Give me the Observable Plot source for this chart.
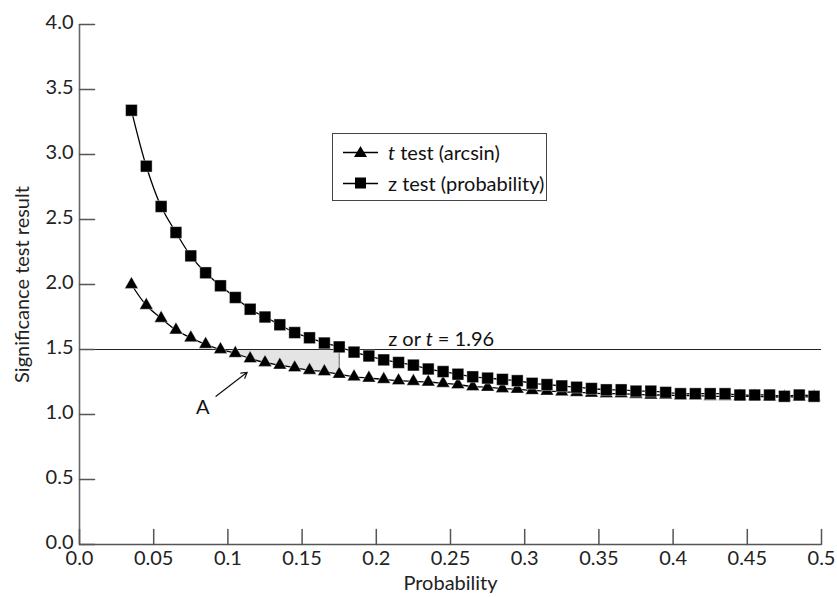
<!DOCTYPE html>
<html>
<head>
<meta charset="utf-8">
<script src="https://cdn.jsdelivr.net/npm/d3@7"></script>
<script src="https://cdn.jsdelivr.net/npm/@observablehq/plot@0.6"></script>
<style>
  html, body { margin: 0; padding: 0; background: #fff; }
  #wrap { position: relative; width: 837px; height: 597px; font-family: "Lato", "DejaVu Sans", sans-serif; }
  #legend { position: absolute; left: 332px; top: 133px; width: 215px; height: 68px; border: 1px solid #444; background: #fff; box-sizing: border-box; font-size: 20px; color: #111; }
  #legend .row { position: absolute; left: 10px; display: flex; align-items: center; height: 24px; white-space: nowrap; }
  #legend svg { margin-right: 9px; }
</style>
</head>
<body>
<div id="wrap"></div>
<script>
// Data
const probability = [0.035,0.045,0.055,0.065,0.075,0.085,0.095,0.105,0.115,0.125,0.135,0.145,0.155,0.165,0.175,0.185,0.195,0.205,0.215,0.225,0.235,0.245,0.255,0.265,0.275,0.285,0.295,0.305,0.315,0.325,0.335,0.345,0.355,0.365,0.375,0.385,0.395,0.405,0.415,0.425,0.435,0.445,0.455,0.465,0.475,0.485,0.495];
const zTest = [3.34,2.91,2.60,2.40,2.22,2.09,1.99,1.90,1.81,1.75,1.69,1.63,1.59,1.55,1.52,1.48,1.45,1.42,1.40,1.38,1.35,1.33,1.31,1.29,1.28,1.27,1.26,1.24,1.23,1.22,1.21,1.20,1.19,1.19,1.18,1.18,1.17,1.16,1.16,1.16,1.16,1.15,1.15,1.15,1.14,1.15,1.14];
const tTest = [2.00,1.84,1.74,1.65,1.59,1.54,1.50,1.47,1.43,1.40,1.38,1.36,1.34,1.33,1.31,1.29,1.28,1.27,1.26,1.255,1.25,1.24,1.23,1.215,1.21,1.20,1.195,1.185,1.18,1.175,1.17,1.165,1.16,1.16,1.155,1.15,1.15,1.145,1.145,1.14,1.14,1.14,1.14,1.135,1.135,1.135,1.135];
const criticalValue = 1.5;
const shadeFrom = 0.095, shadeTo = 0.175;
const xTicks = [0,0.05,0.1,0.15,0.2,0.25,0.3,0.35,0.4,0.45,0.5];
const xTickLabels = ["0.0","0.05","0.1","0.15","0.2","0.25","0.3","0.35","0.4","0.45","0.5"];
const yTicks = [0,0.5,1,1.5,2,2.5,3,3.5,4];
const yTickLabels = ["0.0","0.5","1.0","1.5","2.0","2.5","3.0","3.5","4.0"];
const lineLabel = {p: 0.208, v: 1.58, text: "z or t = 1.96"};
const annotA = {p: 0.083, v: 1.05, text: "A"};
const arrowA = [{x1: 0.092, y1: 1.14, x2: 0.113, y2: 1.325}];

const rows = probability.map((p, i) => ({p, t: tTest[i], z: zTest[i]}));
const shade = rows.filter(d => d.p >= shadeFrom - 1e-9 && d.p <= shadeTo + 1e-9);
const tAtEnd = rows.find(d => Math.abs(d.p - shadeTo) < 1e-9).t;

const tickShape = {draw(context, l) { context.moveTo(0, 0); context.lineTo(0, -l); }};

const font = '"Lato", "DejaVu Sans", sans-serif';
const chart = Plot.plot({
  width: 837,
  height: 597,
  marginLeft: 79,
  marginRight: 16,
  marginTop: 24,
  marginBottom: 53,
  style: {fontFamily: font, fontSize: "20px", color: "#111", background: "#fff", overflow: "visible"},
  x: {domain: [0, 0.5], axis: null},
  y: {domain: [0, 4], axis: null},
  marks: [
    Plot.areaY(shade, {x: "p", y1: "t", y2: criticalValue, fill: "#e4e4e4", curve: "catmull-rom"}),
    Plot.ruleX([shadeTo], {y1: tAtEnd, y2: criticalValue, stroke: "#777", strokeWidth: 1.2}),
    Plot.ruleY([criticalValue], {x1: 0, x2: 0.5, stroke: "#222", strokeWidth: 1.2}),
    // axes
    Plot.ruleX([0], {y1: 0, y2: 4, stroke: "#666", strokeWidth: 1.6}),
    Plot.ruleY([0], {x1: 0, x2: 0.5, stroke: "#555", strokeWidth: 1.6}),
    Plot.vector(xTicks, {x: d => d, y: 0, length: 15, rotate: 0, anchor: "start", shape: tickShape, stroke: "#555", strokeWidth: 1.5}),
    Plot.vector(yTicks, {x: 0, y: d => d, length: 15, rotate: 90, anchor: "start", shape: tickShape, stroke: "#555", strokeWidth: 1.5}),
    Plot.text(xTicks, {x: d => d, y: 0, text: (d, i) => xTickLabels[i], dy: 14, fontSize: 20, fill: "#222"}),
    Plot.text(yTicks, {x: 0, y: d => d, text: (d, i) => yTickLabels[i], dx: -6, dy: -2, textAnchor: "end", fontSize: 20, fill: "#222"}),
    Plot.text(["Probability"], {frameAnchor: "bottom", lineAnchor: "middle", dy: 39, fontSize: 20, fill: "#222"}),
    Plot.text(["Significance test result"], {frameAnchor: "left", textAnchor: "middle", lineAnchor: "middle", dx: -57, rotate: -90, fontSize: 20, fill: "#222"}),
    // curves
    Plot.line(rows, {x: "p", y: "t", curve: "catmull-rom", stroke: "#000", strokeWidth: 1.3}),
    Plot.line(rows, {x: "p", y: "z", curve: "catmull-rom", stroke: "#000", strokeWidth: 1.3}),
    Plot.dot(rows, {x: "p", y: "t", symbol: "triangle", r: 5, fill: "#000", stroke: "#fff", strokeWidth: 0.4}),
    Plot.dot(rows, {x: "p", y: "z", symbol: "square", r: 6.6, fill: "#000", stroke: "#fff", strokeWidth: 0.4}),
    // annotations
    Plot.text([lineLabel], {x: "p", y: "v", text: "text", textAnchor: "start", fontSize: 20, fill: "#111"}),
    Plot.text([annotA], {x: "p", y: "v", text: "text", fontSize: 20, fill: "#111"}),
    Plot.arrow(arrowA, {x1: "x1", y1: "y1", x2: "x2", y2: "y2", stroke: "#111", strokeWidth: 1.2, headLength: 8})
  ]
});
document.getElementById("wrap").appendChild(chart);

// italic "t" in the threshold label
d3.select(chart).selectAll("text").filter(function() { return this.textContent === lineLabel.text; })
  .each(function() {
    const t = d3.select(this);
    t.text(null);
    t.append("tspan").text("z or ");
    t.append("tspan").attr("font-style", "italic").text("t");
    t.append("tspan").text(" = 1.96");
  });

// legend
const legend = document.createElement("div");
legend.id = "legend";
const items = [
  {sym: "triangle", html: '<i>t</i> test (arcsin)', top: 6},
  {sym: "square", html: 'z test (probability)', top: 37}
];
for (const it of items) {
  const row = document.createElement("div");
  row.className = "row";
  row.style.top = it.top + "px";
  const mark = it.sym === "triangle"
    ? '<polygon points="17.5,6 24,17 11,17" fill="#000"/>'
    : '<rect x="12" y="6.5" width="11" height="11" fill="#000"/>';
  row.innerHTML = `<svg width="36" height="24"><line x1="0" y1="12.5" x2="35" y2="12.5" stroke="#000" stroke-width="1.3"/>${mark}</svg><span>${it.html}</span>`;
  legend.appendChild(row);
}
document.getElementById("wrap").appendChild(legend);
</script>
</body>
</html>
